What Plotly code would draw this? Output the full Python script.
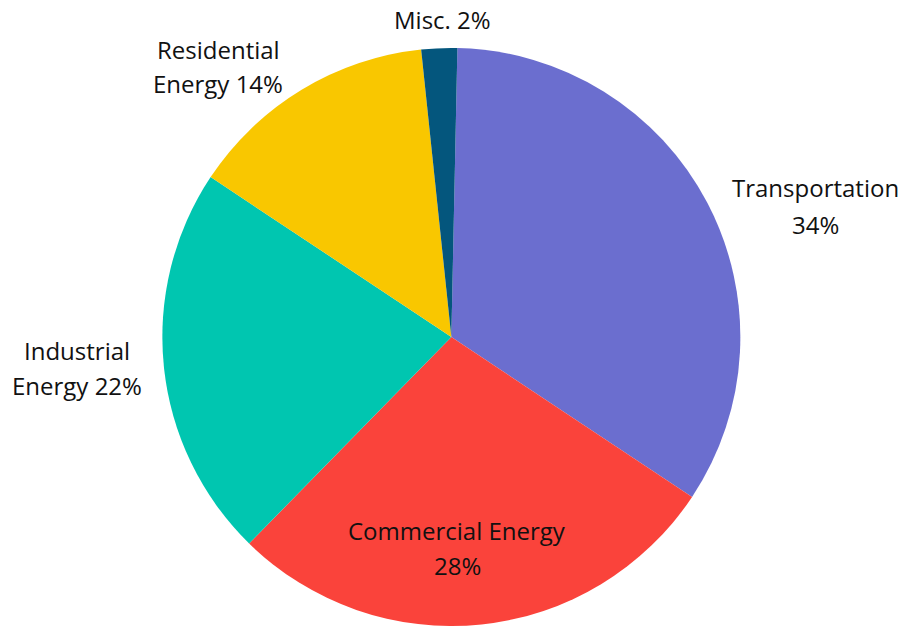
import plotly.graph_objects as go

# Share of energy use by sector (percent)
sectors = ["Transportation", "Commercial Energy", "Industrial Energy",
           "Residential Energy", "Misc."]
shares = [34, 28, 22, 14, 2]
colors = ["#6B6ECF", "#FA433B", "#00C6B0", "#F9C700", "#04567D"]

# Two-line label text for each sector, built from the share values
label_lines = [
    ("Transportation", f"{shares[0]}%"),
    ("Commercial Energy", f"{shares[1]}%"),
    ("Industrial", f"Energy {shares[2]}%"),
    ("Residential", f"Energy {shares[3]}%"),
    (None, f"Misc. {shares[4]}%"),
]
# Label anchor (x center, y of first and second line) in page pixels
label_pos = [
    (815, 188, 224),
    (457, 530, 565),
    (77, 350, 385),
    (218, 49, 84),
    (442, None, 20),
]

W, H = 900, 626
TOP = 48
FONT = "Open Sans"

fig = go.Figure(go.Pie(
    labels=sectors,
    values=shares,
    sort=False,
    direction="clockwise",
    rotation=1.2,
    marker=dict(colors=colors, line=dict(width=0)),
    textinfo="none",
    hoverinfo="label+percent",
    domain=dict(x=[0.003, 1], y=[0, 1]),
    showlegend=False,
))

for (l1, l2), (cx, y1, y2) in zip(label_lines, label_pos):
    for txt, y in ((l1, y1), (l2, y2)):
        if txt is None:
            continue
        fig.add_annotation(
            x=cx / W, y=1 - (y - TOP) / (H - TOP), xref="paper", yref="paper",
            text=txt, showarrow=False, xanchor="center", yanchor="middle",
            font=dict(family=FONT, size=24, color="#111111"),
        )

fig.update_layout(
    width=W, height=H,
    margin=dict(l=0, r=0, t=TOP, b=0),
    paper_bgcolor="white",
    plot_bgcolor="white",
)

fig.write_html("out.html")
